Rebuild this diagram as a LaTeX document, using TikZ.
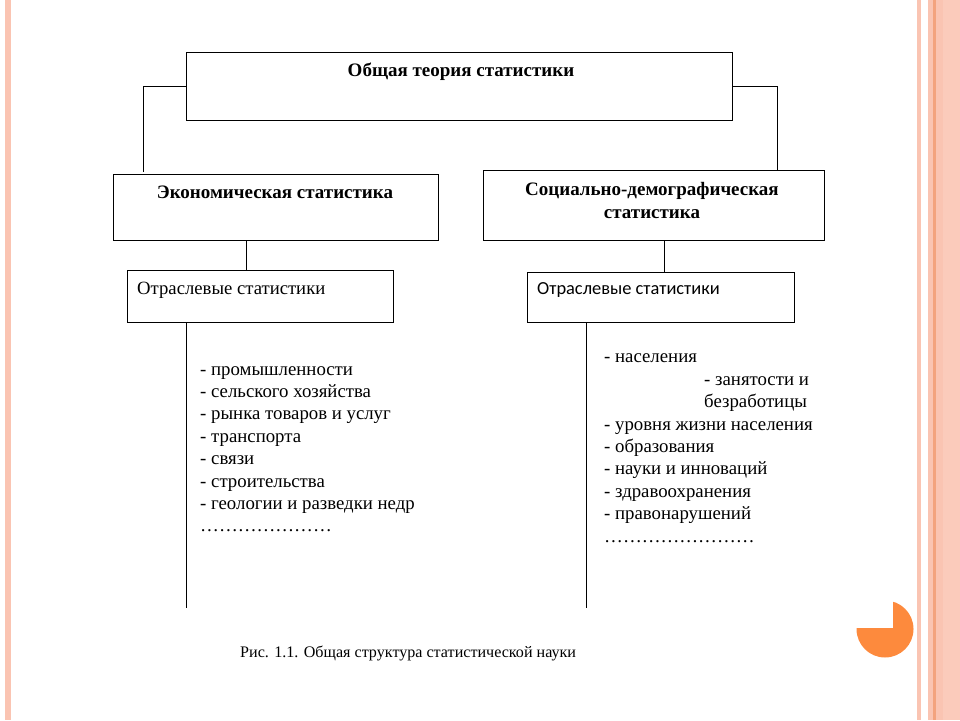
\documentclass[tikz,border=0pt]{standalone}
\usepackage{fontspec}
\setmainfont{Liberation Serif}
\newfontfamily\calib{Carlito}
\definecolor{salmon}{HTML}{FAC4B2}
\definecolor{salmonlt}{HTML}{FBCBBB}
\definecolor{salmondk}{HTML}{F3A37E}
\definecolor{pie}{HTML}{FD8A3D}
\tikzset{
  box/.style={draw=black, line width=1pt, inner sep=0pt, anchor=north west},
  head/.style={font=\fontsize{19}{23}\selectfont\bfseries, align=center, inner sep=0pt},
  plain/.style={font=\fontsize{18.7}{22}\selectfont, inner sep=0pt, anchor=west},
  conn/.style={line width=1pt, black},
  lst/.style={font=\fontsize{18.8}{22.4}\selectfont, inner sep=0pt, anchor=north west, align=left},
}
\begin{document}
\begin{tikzpicture}[x=1pt,y=-1pt]
\useasboundingbox (0,0) rectangle (960,720);
% frame decorations
\fill[salmon] (5,0) rectangle (11,720);
\fill[salmon] (917,0) rectangle (921,720);
\fill[salmon] (928,0) rectangle (943,720);
\fill[salmonlt] (943,0) rectangle (960,720);
\fill[salmondk] (933,0) rectangle (936,720);
% pie
\fill[pie] (885,629) circle (28.5);
\fill[white] (855,599) rectangle (893.3,627.7);
% boxes
\node[box, minimum width=546pt, minimum height=68pt] (top) at (186,52) {};
\node[box, minimum width=325pt, minimum height=66pt] (econ) at (113,174) {};
\node[box, minimum width=341pt, minimum height=70pt] (soc) at (483,170) {};
\node[box, minimum width=266pt, minimum height=52pt] (brL) at (127,270) {};
\node[box, minimum width=267pt, minimum height=50pt] (brR) at (527,272) {};
% texts
\node[head] (tTop) at (461,72) {Общая теория статистики};
\node[head] (tEcon) at (275,192.5) {Экономическая статистика};
\node[head, font=\fontsize{19}{23}\selectfont\bfseries] (tSoc) at (652,200.5) {Социально-демографическая\\статистика};
\node[plain] (tBrL) at (137,290) {Отраслевые статистики};
\node[plain, font=\calib\fontsize{18.4}{22}\selectfont] (tBrR) at (537,290) {Отраслевые статистики};
% connectors
\coordinate (cL) at (143,172);
\coordinate (cR) at (777,170);
\draw[conn] (top.west) -| (cL);
\draw[conn] (top.east) -| (cR);
\coordinate (e1) at (246,240);
\draw[conn] (e1) -- (e1 |- brL.north);
\coordinate (s1) at (664,240);
\draw[conn] (s1) -- (s1 |- brR.north);
\coordinate (endL) at (186,608);
\coordinate (endR) at (586,608);
\draw[conn] (endL |- brL.south) -- (endL);
\draw[conn] (endR |- brR.south) -- (endR);
% lists
\node[lst] (listL) at (200,366) {- промышленности\\- сельского хозяйства\\- рынка товаров и услуг\\- транспорта\\- связи\\- строительства\\- геологии и разведки недр\\…………………};
\node[lst] (listR1) at (604,353) {- населения};
\node[lst] (listR2) at (704,376) {- занятости и\\безработицы};
\node[lst] (listR3) at (604,421) {- уровня жизни населения\\- образования\\- науки и инноваций\\- здравоохранения\\- правонарушений\\……………………};
% caption
\node[plain, font=\fontsize{16.1}{18}\selectfont] (cap) at (240,653) {Рис. 1.1. Общая структура статистической науки};
\end{tikzpicture}
\end{document}
